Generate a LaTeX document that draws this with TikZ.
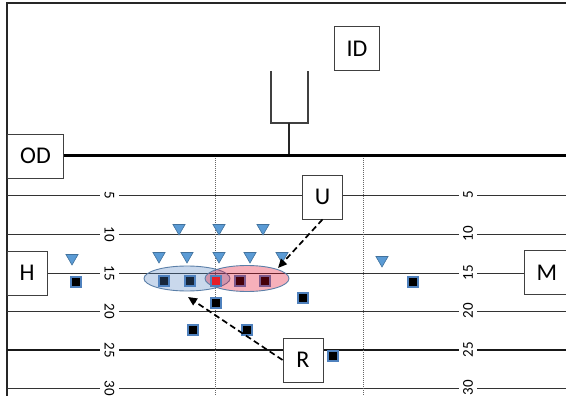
\documentclass[tikz,border=0pt]{standalone}
\usepackage{fontspec}
\setmainfont{Carlito}
\usetikzlibrary{shapes.geometric,arrows.meta}
\definecolor{triblue}{HTML}{5B9BD5}
\definecolor{triedge}{HTML}{41719C}
\definecolor{sqedge}{HTML}{4F81BD}
\definecolor{elblue}{RGB}{80,129,193}
\definecolor{elred}{RGB}{226,0,32}
\definecolor{eledge}{HTML}{5B7FA8}
\definecolor{hotred}{RGB}{230,30,40}
\begin{document}
\begin{tikzpicture}[x=1pt,y=-1pt,
  lbl/.style={draw=black!75, line width=0.9pt, fill=white, minimum width=40pt, minimum height=44pt, inner xsep=12.5pt, font=\fontsize{24}{24}\selectfont},
  defn/.style={regular polygon, regular polygon sides=3, shape border rotate=180, minimum size=14pt, inner sep=0pt, fill=triblue, draw=triedge, line width=0.6pt},
  offn/.style={rectangle, minimum size=10pt, inner sep=0pt, fill=black, draw=sqedge, line width=1.5pt},
  numl/.style={font=\fontsize{15}{15}\selectfont, fill=white, inner xsep=1pt, inner ysep=4.5pt, rotate=-90},
  numr/.style={font=\fontsize{15}{15}\selectfont, fill=white, inner xsep=1pt, inner ysep=4.5pt, rotate=90},
  yard/.style={black!80, line width=0.8pt},
  hash/.style={black!60, line width=0.6pt, dash pattern=on 1pt off 1pt},
  move/.style={black, line width=1.7pt, dash pattern=on 6pt off 3.5pt, -{Triangle[length=9pt,width=8pt]}}]
\useasboundingbox (0,0) rectangle (566,396);
% frame
\draw[black!85, line width=2pt] (7,396) -- (7,3) -- (566,3);
% yard lines
\foreach \yy in {195,234,273,311,388} \draw[yard] (7,\yy) -- (566,\yy);
\draw[black!90, line width=1.6pt] (7,350) -- (566,350);
% hash lines
\draw[hash] (215,158) -- (215,396);
\draw[hash] (363,158) -- (363,396);
% numbers
\foreach \yy/\t [count=\i] in {195/5,234/10,273/15,311/20,350/25,388/30}{
  \node[numl] (nl\i) at (109.5,\yy) {\t};
  \node[numr] (nr\i) at (468,\yy) {\t};
}
% goal post
\draw[black!75, line width=1.1pt] (271,71) -- (271,123) -- (308,123) -- (308,71);
\draw[black!85, line width=1.8pt] (289,123) -- (289,156);
% boxes
\node[lbl] (ID) at (357,48.5) {ID};
\node[lbl] (OD) at (35.5,156) {OD};
\node[lbl] (H) at (27,273) {H};
\node[lbl] (M) at (547,272.5) {M};
\node[lbl] (U) at (322.5,197) {U};
\node[lbl] (R) at (303,360) {R};
% line of scrimmage
\coordinate (los) at (566,156);
\draw[black, line width=3pt] (OD.east) -- (los);
% defense
\foreach \xx/\yy [count=\i] in {179/228,219/228,263/228,159/256,187/256,219/256,250/256,282/256,72/258,382/260}
  \node[defn] (d\i) at (\xx,\yy) {};
% offense
\foreach \xx/\yy [count=\i] in {76/282,164/281,190/281,240/281,265/281,216/303,303/298,413/282,193/330,247/330,333/356}
  \node[offn] (o\i) at (\xx,\yy) {};
% ellipses
\draw[draw=eledge, line width=0.9pt, fill=elblue, fill opacity=0.31] (187,278.5) ellipse [x radius=43, y radius=12.5];
\draw[draw=eledge, line width=0.9pt, fill=elred, fill opacity=0.31] (247,278.5) ellipse [x radius=42, y radius=13];
\node[offn, fill=hotred] (ball) at (216,281) {};
% movements
\coordinate (ut) at (278,268);
\coordinate (rt) at (188,297);
\draw[move] (U.south) -- (ut);
\draw[move] (R.west) -- (rt);
\end{tikzpicture}
\end{document}
